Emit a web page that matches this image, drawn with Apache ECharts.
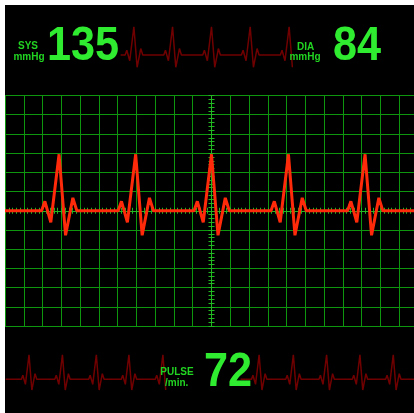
<!DOCTYPE html>
<html>
<head>
<meta charset="utf-8">
<script src="https://cdn.jsdelivr.net/npm/echarts@6/dist/echarts.min.js"></script>
<style>
  html, body { margin: 0; padding: 0; background: #fff; overflow: hidden; width: 414px; height: 413px; }
  #main { position: absolute; left: 5px; top: 5px; width: 413px; height: 408px; background: #000; }
</style>
</head>
<body>
<div id="main"></div>
<script>
// one heartbeat: x offset from the R peak, y value (grid units)
var beatDx = [-0.93, -0.755, -0.44, 0, 0.346, 0.734, 0.947]
var beatDy = [0, 0.49, -0.6, 2.94, -1.28, 0.67, 0]

// R peak positions of each trace
var mainBeats = [-8.12, -4.04, 0, 4.1, 8.18]
var topBeats = [-8.27, -4.15, 0, 4.12, 8.27]
var bottomBeatsLeft = [-22.34, -18.25, -14.1, -10.11, -5.95]
var bottomBeatsRight = [5.83, 10.02, 14.09, 18.17, 22.25]

// readings
var sysValue = '135'
var diaValue = '84'
var pulseValue = '72'

var gridGreen = '#0f960f'
var axisGreen = '#22b822'
var textGreen = '#22d422'
var digitGreen = '#30ec30'

function buildTrace(beats, start, end) {
    var pts = [[start, 0]]
    beats.forEach(function (c) {
        for (var i = 0; i < beatDx.length; i++) {
            var x = c + beatDx[i]
            if (x > start && x <= end + 0.01) pts.push([x, beatDy[i]])
        }
    })
    if (pts[pts.length - 1][0] < end - 0.05) pts.push([end, 0])
    return pts
}

function centerAxis(pos, withSplit) {
    return {
        gridIndex: 0,
        type: 'value',
        position: pos,
        axisLine: { show: true, onZero: true, onZeroAxisIndex: 0, lineStyle: { color: axisGreen, width: 1 } },
        axisTick: { show: true, length: 3, lineStyle: { color: axisGreen } },
        minorTick: { show: true, splitNumber: 5, length: 3, lineStyle: { color: axisGreen } },
        axisLabel: { show: false },
        splitLine: { show: withSplit, lineStyle: { color: gridGreen, width: 1 } }
    }
}

function label(text, x, y) {
    return {
        type: 'text', x: x, y: y, z: 100,
        style: {
            text: text, fill: textGreen,
            font: 'bold 10px "Liberation Sans", Arial, sans-serif',
            textAlign: 'center', textVerticalAlign: 'middle'
        }
    }
}

// big readings, squeezed a little towards the right edge
function digits(text, right, y) {
    return {
        type: 'text', x: right, y: y, z: 100, scaleX: 0.9,
        style: {
            text: text, fill: digitGreen,
            font: 'bold 48px "Liberation Sans", Arial, sans-serif',
            textAlign: 'right', textVerticalAlign: 'middle'
        }
    }
}

var chart = echarts.init(document.getElementById('main'))

var xMain0 = centerAxis('bottom', true)
xMain0.min = -11; xMain0.max = 11; xMain0.interval = 1
var xMain1 = centerAxis('top', false)
xMain1.min = -11; xMain1.max = 11; xMain1.interval = 1
var yMain0 = centerAxis('left', true)
yMain0.min = -6; yMain0.max = 6; yMain0.interval = 1
var yMain1 = centerAxis('right', false)
yMain1.min = -6; yMain1.max = 6; yMain1.interval = 1

var option = {
    backgroundColor: '#000',
    animation: false,
    grid: [
        { left: 0, right: 0, top: 90.5, bottom: 87 },
        { left: 0, right: 0, top: 2, height: 96 },
        { left: 0, right: 0, top: 349.25, height: 50.1 }
    ],
    xAxis: [
        xMain0, xMain1,
        { gridIndex: 1, type: 'value', min: -22, max: 22, show: false },
        { gridIndex: 2, type: 'value', min: -25.28, max: 25.28, show: false }
    ],
    yAxis: [
        yMain0, yMain1,
        { gridIndex: 1, type: 'value', min: -5, max: 5, show: false },
        { gridIndex: 2, type: 'value', min: -3, max: 3, show: false }
    ],
    series: [
        {
            type: 'line', xAxisIndex: 0, yAxisIndex: 0, z: 5,
            showSymbol: false,
            lineStyle: { color: '#ff2a0a', width: 3 },
            data: buildTrace(mainBeats, -11, 11)
        },
        {
            type: 'line', xAxisIndex: 2, yAxisIndex: 2,
            showSymbol: false,
            lineStyle: { color: '#700000', width: 1.5 },
            data: buildTrace(topBeats, -9.68, 8.62)
        },
        {
            type: 'line', xAxisIndex: 3, yAxisIndex: 3,
            showSymbol: false,
            lineStyle: { color: '#700000', width: 1.5 },
            data: buildTrace(bottomBeatsLeft, -25.2, -5.6)
        },
        {
            type: 'line', xAxisIndex: 3, yAxisIndex: 3,
            showSymbol: false,
            lineStyle: { color: '#700000', width: 1.5 },
            data: buildTrace(bottomBeatsRight, 3.55, 25.3)
        }
    ],
    graphic: [
        label('SYS', 23, 41.5),
        label('mmHg', 24, 52),
        digits(sysValue, 114, 42.2),
        label('DIA', 300.7, 42.3),
        label('mmHg', 300, 52.3),
        digits(diaValue, 376, 42.2),
        label('PULSE', 172, 367.7),
        label('/min.', 171.7, 377.8),
        digits(pulseValue, 247, 368)
    ]
}

chart.setOption(option)
</script>
</body>
</html>
